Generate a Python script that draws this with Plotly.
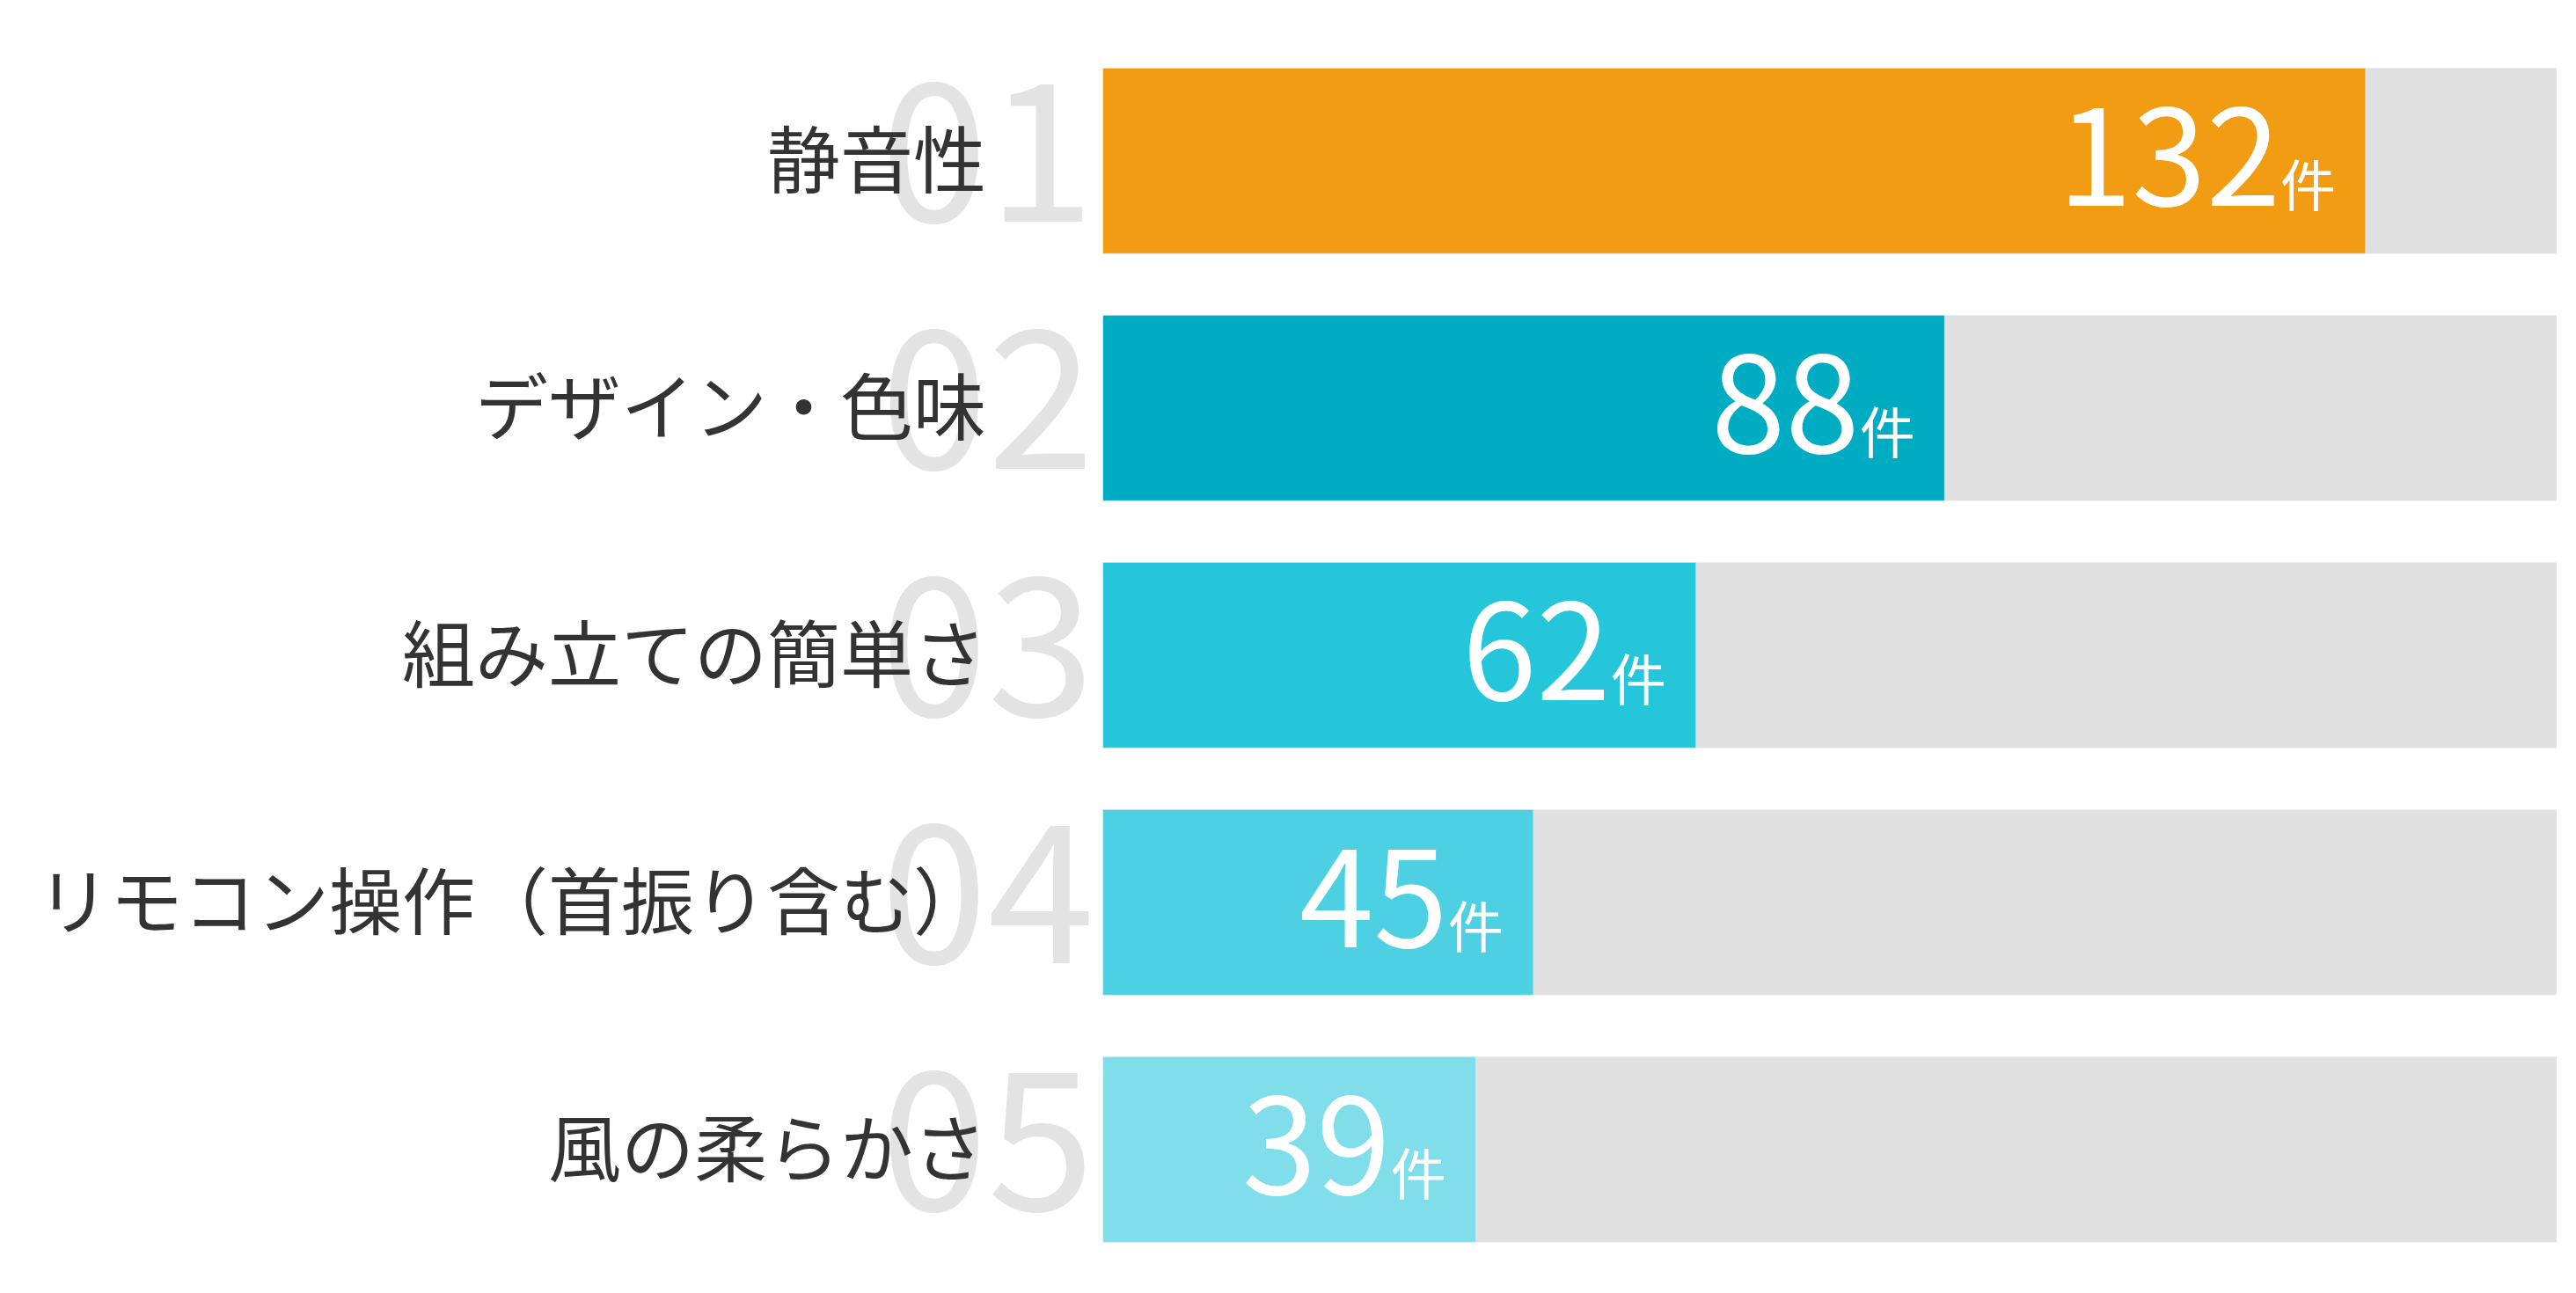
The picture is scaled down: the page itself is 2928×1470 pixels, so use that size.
import plotly.graph_objects as go

labels = ["静音性", "デザイン・色味", "組み立ての簡単さ", "リモコン操作（首振り含む）", "風の柔らかさ"]
ranks = ["01", "02", "03", "04", "05"]
values = [132, 88, 62, 45, 39]
colors = ["#F29C14", "#00ACC1", "#26C6DA", "#4DD0E1", "#80DEEA"]
track_max = 152

S = 1470 / 790
ys = list(range(len(values)))
fig = go.Figure()
fig.add_bar(x=[track_max]*len(values), y=ys, orientation="h", marker_color="#E0E0E0",
            width=0.75, hoverinfo="skip")
fig.add_bar(x=values, y=ys, orientation="h", marker_color=colors, width=0.75)

font = "Noto Sans CJK JP"
for i, (lab, rk, v) in enumerate(zip(labels, ranks, values)):
    fig.add_annotation(x=663/1568, xref="paper", y=i, yref="y", text=rk, showarrow=False,
                       xanchor="right", yanchor="middle", yshift=14*S,
                       font=dict(family=font, size=int(118*S), color="#E3E3E3"))
    fig.add_annotation(x=597/1568, xref="paper", y=i, yref="y", text=lab, showarrow=False,
                       xanchor="right", yanchor="middle", yshift=3*S,
                       font=dict(family=font, size=int(45*S), color="#333333"))
    fig.add_annotation(x=v, xref="x", y=i, yref="y",
                       text=f"{v}<span style='font-size:{int(34*S)}px'>件</span>",
                       showarrow=False, xanchor="right", yanchor="middle", xshift=-17*S, yshift=8*S,
                       font=dict(family=font, size=int(82*S), color="white"))

fig.update_layout(
    width=2928, height=1470, barmode="overlay", showlegend=False,
    margin=dict(l=0, r=0, t=0, b=0), paper_bgcolor="white", plot_bgcolor="white",
    xaxis=dict(domain=[667/1568, 1552/1568], range=[0, track_max], visible=False, fixedrange=True),
    yaxis=dict(range=[(790-91)/151 - 0.02, -91/151 - 0.02], visible=False),
)
fig.write_html("out.html")
